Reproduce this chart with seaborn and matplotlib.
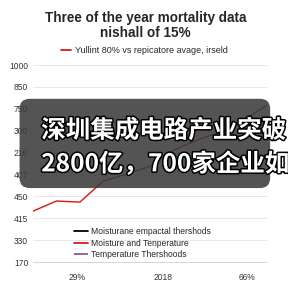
import matplotlib
matplotlib.use("Agg")
import matplotlib.pyplot as plt
import seaborn as sns
import pandas as pd
from matplotlib.lines import Line2D
from matplotlib.patches import FancyBboxPatch
from matplotlib.legend_handler import HandlerTuple
import matplotlib.patheffects as pe

# data
steps = list(range(11))
mortality = [2.33, 2.79, 2.74, 3.70, 4.02, 4.38, 5.11, 5.57, 5.94, 6.48, 7.17]
y_labels = ["170", "330", "415", "450", "407", "216", "300", "750", "850", "1000"]
x_ticks = [1.88, 5.56, 9.15]
x_labels = ["29%", "2018", "66%"]

sns.set_style("white")
plt.rcParams["font.family"] = ["Liberation Sans", "DejaVu Sans"]

fig = plt.figure(figsize=(4, 4), dpi=72)
ax = fig.add_axes([0.115, 0.090, 0.812, 0.684])

df = pd.DataFrame({"step": steps, "value": mortality})
sns.lineplot(data=df, x="step", y="value", color="#d7191c", linewidth=1.4, ax=ax)

ax.set_xlim(0, 10)
ax.set_ylim(0, 9)
ax.set_yticks(range(len(y_labels)))
ax.set_yticklabels(y_labels, fontsize=8.5, color="#333333")
ax.set_xticks(x_ticks)
ax.set_xticklabels(x_labels, fontsize=8.5, color="#333333")
ax.set_xlabel("")
ax.set_ylabel("")
ax.yaxis.grid(True, color="#e3e3e3", linewidth=0.8)
ax.tick_params(axis="y", length=0, pad=5)
ax.tick_params(axis="x", length=3, color="#aaaaaa", pad=8)
for s in ["top", "right", "left"]:
    ax.spines[s].set_visible(False)
ax.spines["bottom"].set_color("#cccccc")

fig.text(0.505, 0.912, "Three of the year mortality data\nnishall of 15%",
         ha="center", va="center", fontsize=13.5, fontweight="bold",
         linespacing=1.1)
fig.legend(handles=[Line2D([], [], color="#d7191c", lw=1.8)],
           labels=["Yullint 80% vs repicatore avage, irseld"],
           loc="center", bbox_to_anchor=(0.5, 0.825), frameon=False,
           fontsize=9, handlelength=1.2, handletextpad=0.35)

black = Line2D([], [], color="black", lw=1.8)
red = Line2D([], [], color="#d7191c", lw=1.8)
dash_r = Line2D([], [], color="#d7191c", lw=1.6, linestyle=(0, (2, 2)))
dash_b = Line2D([], [], color="#1f5fd0", lw=1.6, linestyle=(2, (2, 2)))
ax.legend(handles=[black, red, (dash_r, dash_b)],
          labels=["Moisturane empactal thershods", "Moisture and Tenperature",
                  "Temperature Thershoods"],
          handler_map={tuple: HandlerTuple(ndivide=1)},
          loc="lower left", bbox_to_anchor=(0.14, -0.025), frameon=False,
          fontsize=8.5, handlelength=1.7, handletextpad=0.4, labelspacing=0.32)

# dark overlay banner with text
box = FancyBboxPatch((0.068, 0.347), 0.87, 0.31, boxstyle="round,pad=0,rounding_size=0.035",
                     transform=fig.transFigure, facecolor="#3c3c3c", alpha=0.88,
                     edgecolor="none", zorder=10)
fig.patches.append(box)
for yy, txt in [(0.546, "深圳集成电路产业突破"), (0.43, "2800亿，700家企业如")]:
    fig.text(0.143, yy, txt, ha="left", va="center", fontsize=24.5,
             fontweight="bold", color="white", family=["Noto Sans CJK SC", "DejaVu Sans"],
             zorder=11, path_effects=[pe.withStroke(linewidth=3, foreground="black")])

fig.savefig("out.png", dpi=72)
